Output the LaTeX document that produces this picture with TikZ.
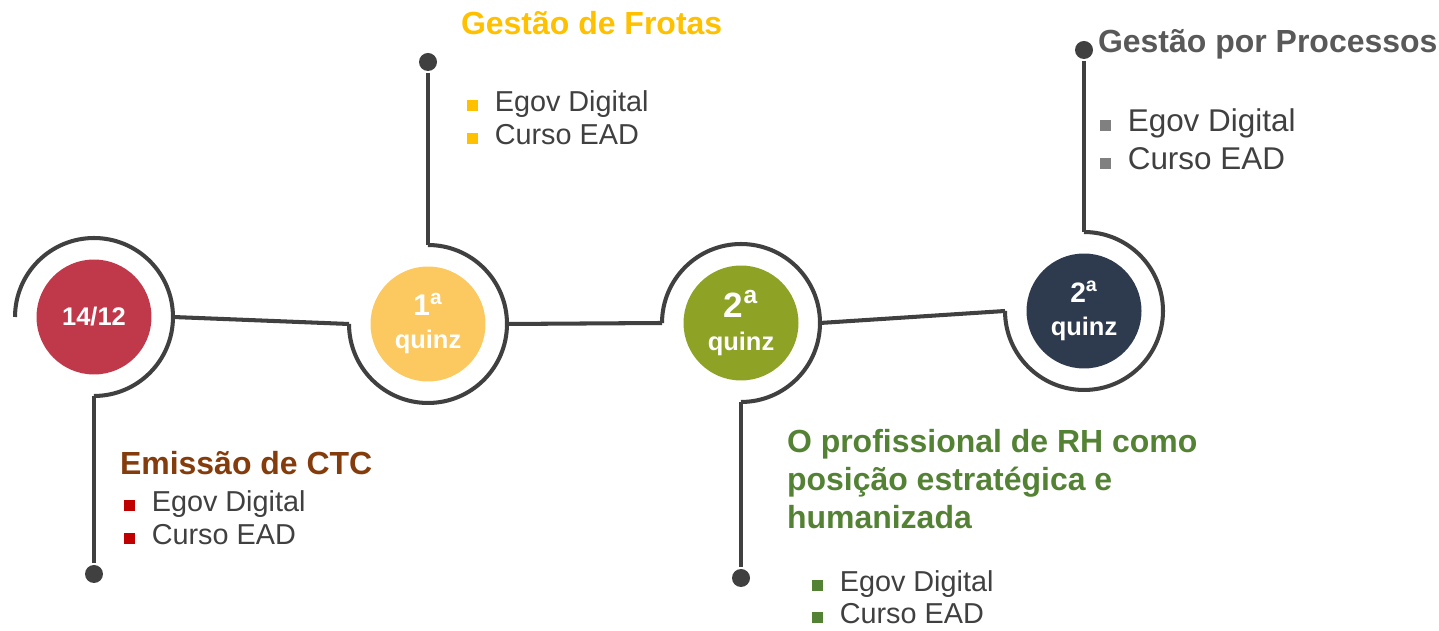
\documentclass[tikz,border=0pt]{standalone}
\usepackage{fontspec}
\setmainfont{Liberation Sans}
\usetikzlibrary{positioning,calc}
\definecolor{linec}{RGB}{64,64,64}
\definecolor{itemc}{RGB}{64,64,64}
\definecolor{ctcc}{RGB}{192,57,75}
\definecolor{frotac}{RGB}{252,200,96}
\definecolor{rhc}{RGB}{142,162,38}
\definecolor{procc}{RGB}{46,58,78}
\definecolor{ctctxt}{RGB}{132,60,12}
\definecolor{ctcbul}{RGB}{192,0,0}
\definecolor{frotatxt}{RGB}{255,192,0}
\definecolor{rhtxt}{RGB}{84,130,53}
\definecolor{proctxt}{RGB}{89,89,89}
\definecolor{procbul}{RGB}{128,128,128}
\newcommand\sqbul[1]{\textcolor{#1}{\rule[0.8pt]{6.3pt}{6.3pt}}\hspace{9.5pt}}

\begin{document}
\begin{tikzpicture}[x=0.02cm,y=0.02cm,line width=2.3pt,linec,
  stop/.style={circle,minimum size=2.3cm,inner sep=0pt,text=white,align=center,
               font=\fontsize{14.5}{18.8}\selectfont\bfseries},
  ring/.style={circle,minimum size=3.16cm,inner sep=0pt,outer sep=0pt},
  pin/.style={circle,fill=linec,minimum size=0.36cm,inner sep=0pt},
  title/.style={anchor=base west,inner sep=0pt,font=\fontsize{18.2}{22}\selectfont\bfseries},
  item/.style={anchor=base west,inner sep=0pt,text=itemc,font=\fontsize{16.4}{20}\selectfont}]
\useasboundingbox (0,0) rectangle (1439,631);

% the four stops of the line
\node[stop,fill=ctcc] (s1) at (94,314) {14/12};
\node[stop,fill=frotac] (s2) at (428,307) {{\fontsize{17}{17}\selectfont 1\textsuperscript{a}}\\quinz};
\node[stop,fill=rhc] (s3) at (741,308) {{\fontsize{20}{20}\selectfont 2\textsuperscript{a}}\\quinz};
\node[stop,fill=procc] (s4) at (1084,320) {{\fontsize{16}{16}\selectfont 2\textsuperscript{a}}\\quinz};
\foreach \i in {1,...,4}
  \node[ring] (r\i) at (s\i) {};

% open rings round the stops
\draw (r1.west) arc[start angle=180,end angle=-90,radius=1.58cm];
\draw (r2.west) arc[start angle=180,end angle=450,radius=1.58cm];
\draw (r3.west) arc[start angle=180,end angle=-90,radius=1.58cm];
\draw (r4.west) arc[start angle=180,end angle=450,radius=1.58cm];

\draw (r1.east) -- (r2.west);
\draw (r2.east) -- (r3.west);
\draw (r3.east) -- (r4.west);

% pins
\node[pin] (p1) at (94,57) {};
\node[pin] (p2) at (428,569) {};
\node[pin] (p3) at (741,53) {};
\node[pin] (p4) at (1084,581) {};
\foreach \i/\a in {1/south,2/north,3/south,4/north}
  \draw (r\i.\a) -- (p\i);

% Emissao de CTC
\node[title,text=ctctxt] (t1) at (118,156) {Emissão de CTC};
\node[item] (t1a) at (122,119) {\sqbul{ctcbul}Egov Digital};
\node[item] (t1b) at (122,86) {\sqbul{ctcbul}Curso EAD};

% Gestao de Frotas
\node[title,text=frotatxt] (t2) at (459,596) {Gestão de Frotas};
\node[item] (t2a) at (465,519) {\sqbul{frotatxt}Egov Digital};
\node[item] (t2b) at (465,486) {\sqbul{frotatxt}Curso EAD};

% RH
\node[title,text=rhtxt] (t3) at (785,178) {O profissional de RH como};
\node[title,text=rhtxt] (t3l2) at (785,140) {posição estratégica e};
\node[title,text=rhtxt] (t3l3) at (785,102) {humanizada};
\node[item] (t3a) at (810,39) {\sqbul{rhtxt}Egov Digital};
\node[item] (t3b) at (810,7) {\sqbul{rhtxt}Curso EAD};

% Gestao por Processos
\node[title,text=proctxt] (t4) at (1096,578) {Gestão por Processos};
\node[item,font=\fontsize{17.9}{22}\selectfont] (t4a) at (1098,499) {\sqbul{procbul}Egov Digital};
\node[item,font=\fontsize{17.9}{22}\selectfont] (t4b) at (1098,461) {\sqbul{procbul}Curso EAD};
\end{tikzpicture}
\end{document}
